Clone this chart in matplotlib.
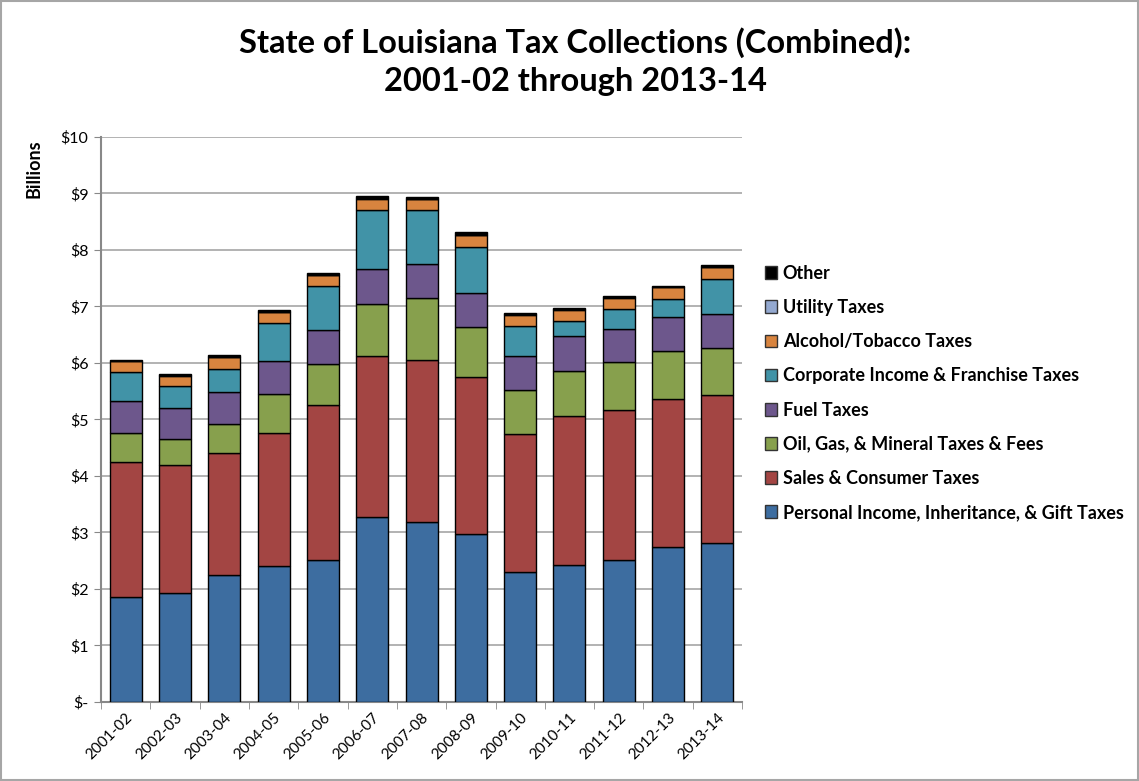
import matplotlib
matplotlib.use("Agg")
import matplotlib.pyplot as plt
import numpy as np
from matplotlib.patches import Rectangle

plt.rcParams['font.family'] = ['Lato', 'DejaVu Sans']

years = ["2001-02", "2002-03", "2003-04", "2004-05", "2005-06", "2006-07", "2007-08",
         "2008-09", "2009-10", "2010-11", "2011-12", "2012-13", "2013-14"]

personal = [1.85, 1.93, 2.24, 2.41, 2.51, 3.27, 3.18, 2.98, 2.30, 2.42, 2.51, 2.75, 2.82]
sales    = [2.40, 2.27, 2.17, 2.35, 2.74, 2.86, 2.88, 2.78, 2.44, 2.65, 2.65, 2.61, 2.62]
oil      = [0.51, 0.45, 0.51, 0.69, 0.73, 0.91, 1.09, 0.88, 0.79, 0.79, 0.85, 0.85, 0.83]
fuel     = [0.56, 0.56, 0.57, 0.58, 0.61, 0.62, 0.61, 0.60, 0.60, 0.62, 0.59, 0.60, 0.60]
corp     = [0.52, 0.39, 0.41, 0.67, 0.77, 1.05, 0.94, 0.82, 0.52, 0.26, 0.35, 0.33, 0.62]
alcohol  = [0.19, 0.17, 0.20, 0.20, 0.19, 0.20, 0.20, 0.20, 0.20, 0.20, 0.20, 0.20, 0.20]
utility  = [0.01, 0.01, 0.01, 0.01, 0.01, 0.01, 0.01, 0.01, 0.01, 0.01, 0.01, 0.01, 0.01]
other    = [0.02, 0.02, 0.03, 0.02, 0.03, 0.03, 0.02, 0.04, 0.03, 0.03, 0.03, 0.02, 0.03]

series_names = ["Personal Income, Inheritance, & Gift Taxes", "Sales & Consumer Taxes",
                "Oil, Gas, & Mineral Taxes & Fees", "Fuel Taxes",
                "Corporate Income & Franchise Taxes", "Alcohol/Tobacco Taxes",
                "Utility Taxes", "Other"]
series_vals = [personal, sales, oil, fuel, corp, alcohol, utility, other]
colors = ["#3D6DA0", "#A34543", "#87A04D", "#6D578C", "#4193A7", "#D8843F", "#94A9D0", "#000000"]

yticks = list(range(0, 11))
ytick_labels = ["$-"] + ["$%d" % v for v in range(1, 11)]

fig = plt.figure(figsize=(11.39, 7.81), dpi=100)
ax = fig.add_axes([0.0887, 0.1012, 0.5628, 0.7234])

x = np.arange(len(years))
bottom = np.zeros(len(years))
handles = []
for name, vals, c in zip(series_names, series_vals, colors):
    v = np.array(vals)
    b = ax.bar(x, v, bottom=bottom, width=0.65, color=c, edgecolor="black",
               linewidth=1.0, label=name, zorder=3)
    handles.append(b)
    bottom += v

ax.set_xlim(-0.5, len(years) - 0.5)
ax.set_ylim(0, 10)
ax.set_yticks(yticks)
ax.set_yticklabels(ytick_labels, fontsize=11.5)
ax.set_xticks(x)
ax.set_xticklabels(years, rotation=45, ha="right", rotation_mode="anchor", fontsize=11)
ax.set_xticks(np.arange(-0.5, len(years)), minor=True)
ax.tick_params(axis="x", which="major", length=0, pad=6)
ax.tick_params(axis="x", which="minor", length=5, color="#888888", direction="out")
ax.tick_params(axis="y", length=5, color="#888888", direction="out", pad=4)

ax.grid(axis="y", color="#A6A6A6", linewidth=1.2, zorder=0)
for s in ["top", "right"]:
    ax.spines[s].set_visible(False)
for s in ["left", "bottom"]:
    ax.spines[s].set_color("#888888")
    ax.spines[s].set_linewidth(1.5)

fig.text(0.030, 0.822, "Billions", rotation=90, fontsize=13, fontweight="bold",
         ha="center", va="top")

fig.text(0.505, 0.945, "State of Louisiana Tax Collections (Combined):",
         fontsize=23.5, fontweight="bold", ha="center", va="center")
fig.text(0.505, 0.896, "2001-02 through 2013-14",
         fontsize=23.5, fontweight="bold", ha="center", va="center")

leg = fig.legend(handles[::-1], series_names[::-1], loc="upper left",
                 bbox_to_anchor=(0.665, 0.67), frameon=False,
                 prop={"size": 13, "weight": "bold"},
                 handlelength=0.7, handleheight=0.7, handletextpad=0.3,
                 labelspacing=0.95, borderaxespad=0)
for h in leg.legend_handles:
    h.set_linewidth(1.0)
    h.set_edgecolor("#333333")

fig.patches.append(Rectangle((0.001, 0.001), 0.998, 0.998, transform=fig.transFigure,
                             fill=False, edgecolor="#A6A6A6", linewidth=1.5))

fig.savefig("out.png", dpi=100)
